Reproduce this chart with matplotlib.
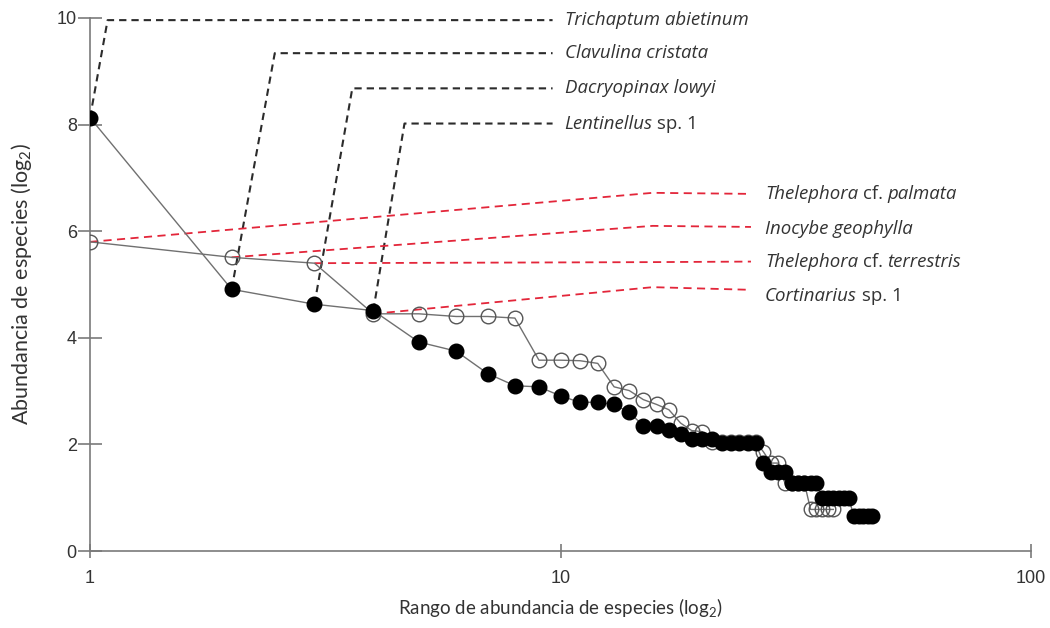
import numpy as np
import matplotlib
matplotlib.use("Agg")
from matplotlib import pyplot as plt

plt.rcParams['font.family'] = ['Lato', 'DejaVu Sans']
plt.rcParams['mathtext.fontset'] = 'custom'
plt.rcParams['mathtext.rm'] = 'Lato'

# abundance (log2) by rank, two communities
filled_abund = [8.13, 4.91, 4.63, 4.51, 3.92, 3.75, 3.33, 3.10, 3.08, 2.91,
                2.79, 2.79, 2.75, 2.60, 2.35, 2.35, 2.27, 2.19, 2.11, 2.11,
                2.11, 2.02, 2.02, 2.02, 2.02, 2.02, 1.65, 1.49, 1.49, 1.49,
                1.27, 1.27, 1.27, 1.27, 1.27, 1.00, 1.00, 1.00, 1.00, 1.00,
                1.00, 0.65, 0.65, 0.65, 0.65, 0.65]
open_abund = [5.80, 5.51, 5.40, 4.45, 4.45, 4.40, 4.40, 4.37, 3.58, 3.58,
              3.57, 3.52, 3.08, 3.01, 2.84, 2.75, 2.65, 2.40, 2.26, 2.24,
              2.05, 2.05, 2.05, 2.05, 2.05, 2.05, 1.86, 1.65, 1.65, 1.27,
              1.27, 1.27, 1.27, 0.78, 0.78, 0.78, 0.78, 0.78]

# leader lines: rank of species, knee point (x, y)
black_species = [
    [('Trichaptum abietinum', 'italic')],
    [('Clavulina cristata', 'italic')],
    [('Dacryopinax lowyi', 'italic')],
    [('Lentinellus', 'italic'), ('sp. 1', 'normal')],
]
black_ranks = [1, 2, 3, 4]
black_knee_x = [1.09, 2.47, 3.61, 4.66]
black_knee_y = [9.96, 9.34, 8.68, 8.02]
black_end_x = 9.62
black_text_x = 10.2

red_species = [
    [('Thelephora', 'italic'), ('cf.', 'normal'), ('palmata', 'italic')],
    [('Inocybe geophylla', 'italic')],
    [('Thelephora', 'italic'), ('cf.', 'normal'), ('terrestris', 'italic')],
    [('Cortinarius', 'italic'), ('sp. 1', 'normal')],
]
red_ranks = [1, 2, 3, 4]
red_knee_x = [15.7, 15.7, 15.7, 15.7]
red_knee_y = [6.72, 6.10, 5.42, 4.95]
red_end_y = [6.70, 6.08, 5.43, 4.90]
red_label_y = [6.69, 6.05, 5.42, 4.78]
red_end_x = 25.4
red_text_x = 27.2

TEXT = '#333333'
AXIS = '#7a7a7a'
RED = '#e3263a'

fig = plt.figure(figsize=(10.5, 6.28), dpi=100)
ax = fig.add_axes([90 / 1050, 77 / 628, 941 / 1050, 533 / 628])


def species_label(x, y, parts, size=13.4):
    prev = None
    for s, style in parts:
        if prev is None:
            prev = ax.text(x, y, s, style=style, va='center', ha='left',
                           fontsize=size, color=TEXT, family='Open Sans')
        else:
            prev = ax.annotate(s, xy=(1, 0), xycoords=prev, xytext=(3.4, 0),
                               textcoords='offset points', va='bottom', ha='left',
                               style=style, fontsize=size, color=TEXT,
                               family='Open Sans')


filled_rank = np.arange(1, len(filled_abund) + 1)
open_rank = np.arange(1, len(open_abund) + 1)

# black leader lines from the filled series
for parts, r, kx, ky in zip(black_species, black_ranks, black_knee_x, black_knee_y):
    xs = [r, kx, black_end_x]
    ys = [filled_abund[r - 1], ky, ky]
    ax.plot(xs, ys, color='#2b2b2b', lw=1.5, linestyle=(0, (3.5, 2.4)), zorder=2)
    species_label(black_text_x, ky, parts)

# red leader lines from the open series
for parts, r, kx, ky, ey, ly in zip(red_species, red_ranks, red_knee_x,
                                    red_knee_y, red_end_y, red_label_y):
    xs = [r, kx, red_end_x]
    ys = [open_abund[r - 1], ky, ey]
    ax.plot(xs, ys, color=RED, lw=1.3, linestyle=(0, (4.5, 3)), zorder=2)
    species_label(red_text_x, ly, parts)

ax.plot(open_rank, open_abund, color='#707070', lw=1, marker='o', ms=10.5,
        mfc='none', mec='#555555', mew=1, zorder=3)
ax.plot(filled_rank, filled_abund, color='#707070', lw=1, marker='o', ms=10.5,
        mfc='black', mec='black', zorder=4)

ax.set_xscale('log')
ax.set_xlim(1, 100)
ax.set_ylim(0, 10)
ax.set_xticks([1, 10, 100])
ax.set_xticklabels(['1', '10', '100'])
ax.minorticks_off()
ax.set_yticks([0, 2, 4, 6, 8, 10])

for side in ['top', 'right']:
    ax.spines[side].set_visible(False)
for side in ['left', 'bottom']:
    ax.spines[side].set_color(AXIS)
    ax.spines[side].set_linewidth(1.2)

ax.tick_params(axis='y', direction='inout', length=17, width=1.2, color=AXIS,
               labelsize=13, labelcolor=TEXT, pad=1)
ax.tick_params(axis='x', direction='inout', length=10, width=1.2, color=AXIS,
               labelsize=13, labelcolor=TEXT, pad=9)
for lbl in ax.get_xticklabels() + ax.get_yticklabels():
    lbl.set_family('Liberation Sans')

ax.set_xlabel(r'Rango de abundancia de especies (log$_2$)', fontsize=13.5,
              color=TEXT, labelpad=7)
ax.set_ylabel(r'Abundancia de especies (log$_2$)', fontsize=15.5,
              color=TEXT, labelpad=16)

fig.savefig('out.png', dpi=100)
